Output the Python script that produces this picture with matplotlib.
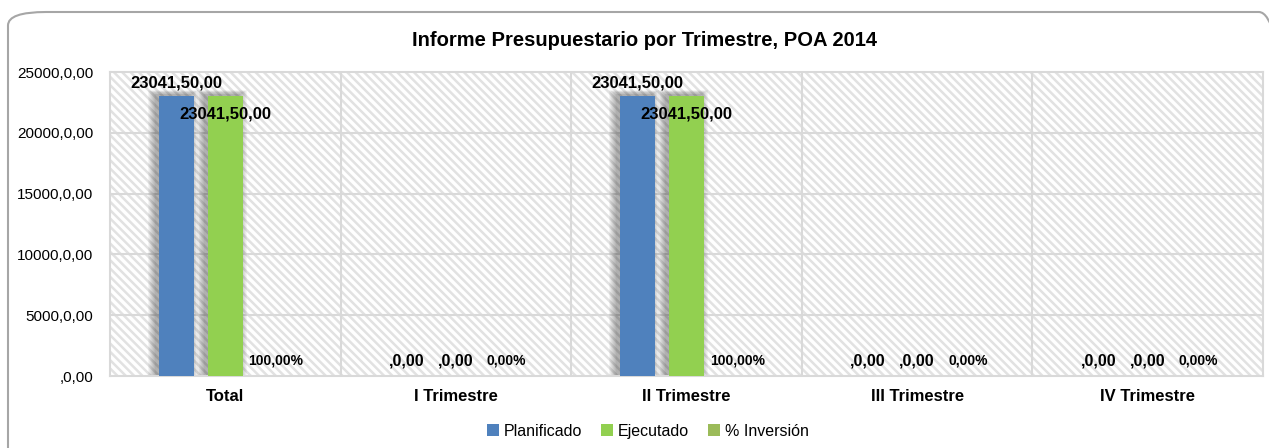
import matplotlib
matplotlib.use("Agg")
import matplotlib.pyplot as plt
from matplotlib.patches import Rectangle, FancyBboxPatch, Patch
import numpy as np

# datos del gráfico
categorias = ["Total", "I Trimestre", "II Trimestre", "III Trimestre", "IV Trimestre"]
planificado = [23041.50, 0, 23041.50, 0, 0]
ejecutado = [23041.50, 0, 23041.50, 0, 0]
inversion = [1.0, 0, 1.0, 0, 0]  # fraccion (100% = 1)
etq_planificado = ["23041,50,00", ",0,00", "23041,50,00", ",0,00", ",0,00"]
etq_ejecutado = ["23041,50,00", ",0,00", "23041,50,00", ",0,00", ",0,00"]
etq_inversion = ["100,00%", "0,00%", "100,00%", "0,00%", "0,00%"]
yticks = [0, 5000, 10000, 15000, 20000, 25000]
ytick_labels = [",0,00", "5000,0,00", "10000,0,00", "15000,0,00", "20000,0,00", "25000,0,00"]

c_plan = "#4F81BD"
c_ejec = "#92D050"
c_inv = "#9BBB59"
c_grid = "#d9d9d9"

plt.rcParams['font.family'] = ['Liberation Sans', 'DejaVu Sans']
plt.rcParams['hatch.color'] = '#e2e2e2'
plt.rcParams['hatch.linewidth'] = 1.8

W, H = 1269, 448
fig = plt.figure(figsize=(W / 100, H / 100), dpi=100)

# borde redondeado del gráfico
borde = FancyBboxPatch((8 / W, -20 / H), (W + 20) / W, (H - 12 + 20) / H,
                       boxstyle="round,pad=0,rounding_size=0.03", transform=fig.transFigure,
                       facecolor="none", edgecolor="#a6a6a6", linewidth=1.5, zorder=-1)
fig.patches.append(borde)

ax = fig.add_axes([110 / W, 1 - 376 / H, (1263 - 110) / W, (376 - 72) / H])
ax.set_facecolor("white")

x = np.arange(len(categorias))
ancho = 0.152
sep = 0.212

ax.set_xlim(-0.5, len(categorias) - 0.5)
ax.set_ylim(0, 25000)

# fondo rayado
fondo = Rectangle((0, 0), 1, 1, transform=ax.transAxes, facecolor="white",
                  hatch="\\\\\\\\", edgecolor="#e2e2e2", linewidth=0, zorder=0)
ax.add_patch(fondo)

# rejilla
for yy in yticks[1:-1]:
    ax.axhline(yy, color=c_grid, lw=1.5, zorder=1)
for k in range(1, len(categorias)):
    ax.axvline(k - 0.5, color=c_grid, lw=1.5, zorder=1)

# sombras difuminadas
px = 1 / 231.0
py = 25000 / 304.0
for serie, off in [(planificado, -sep), (ejecutado, 0)]:
    for xi, v in zip(x, serie):
        if v <= 0:
            continue
        for s in range(1, 9):
            ax.add_patch(Rectangle((xi + off - ancho / 2 - (3 + s) * px, 0),
                                   ancho + (2 * s - 1) * px, v + (1 + s * 0.6) * py,
                                   facecolor="black", edgecolor="none", alpha=0.045, zorder=2))

ax.bar(x - sep, planificado, ancho, color=c_plan, zorder=3, label="Planificado")
ax.bar(x, ejecutado, ancho, color=c_ejec, zorder=3, label="Ejecutado")
ax.bar(x + sep, inversion, ancho, color=c_inv, zorder=3, label="% Inversión")

# etiquetas de datos
for xi, v, t in zip(x, planificado, etq_planificado):
    if v > 0:
        ax.annotate(t, (xi - sep, v), xytext=(0, 4), textcoords="offset points",
                    ha="center", va="bottom", fontsize=12, fontweight="bold", zorder=5)
    else:
        ax.annotate(t, (xi - sep, 0), xytext=(0, 11), textcoords="offset points",
                    ha="center", va="center", fontsize=11.5, fontweight="bold", zorder=5)
for xi, v, t in zip(x, ejecutado, etq_ejecutado):
    if v > 0:
        ax.annotate(t, (xi, v), xytext=(0, -13), textcoords="offset points",
                    ha="center", va="center", fontsize=12, fontweight="bold", zorder=5)
    else:
        ax.annotate(t, (xi, 0), xytext=(0, 11), textcoords="offset points",
                    ha="center", va="center", fontsize=11.5, fontweight="bold", zorder=5)
for xi, v, t in zip(x, inversion, etq_inversion):
    ax.annotate(t, (xi + sep + 0.008, 0), xytext=(0, 11), textcoords="offset points",
                ha="center", va="center", fontsize=10, fontweight="bold", zorder=5)

ax.set_yticks(yticks)
ax.set_yticklabels(ytick_labels, fontsize=11)
ax.set_xticks(x)
ax.set_xticklabels(categorias, fontsize=12, fontweight="bold")
ax.tick_params(axis="y", length=0, pad=12)
ax.tick_params(axis="x", length=0, pad=9)
for sp in ax.spines.values():
    sp.set_color(c_grid)
    sp.set_linewidth(1.5)

fig.text(645 / W, 1 - 40 / H, "Informe Presupuestario por Trimestre, POA 2014",
         ha="center", va="center", fontsize=14.5, fontweight="bold")

handles = [Patch(facecolor=c_plan, label="Planificado"),
           Patch(facecolor=c_ejec, label="Ejecutado"),
           Patch(facecolor=c_inv, label="% Inversión")]
fig.legend(handles=handles, loc="center", bbox_to_anchor=(648 / W, 1 - 431 / H), ncol=3,
           frameon=False, fontsize=11.5, handlelength=0.75, handleheight=0.75,
           handletextpad=0.3, columnspacing=1.2)

fig.savefig("out.png", dpi=100)
